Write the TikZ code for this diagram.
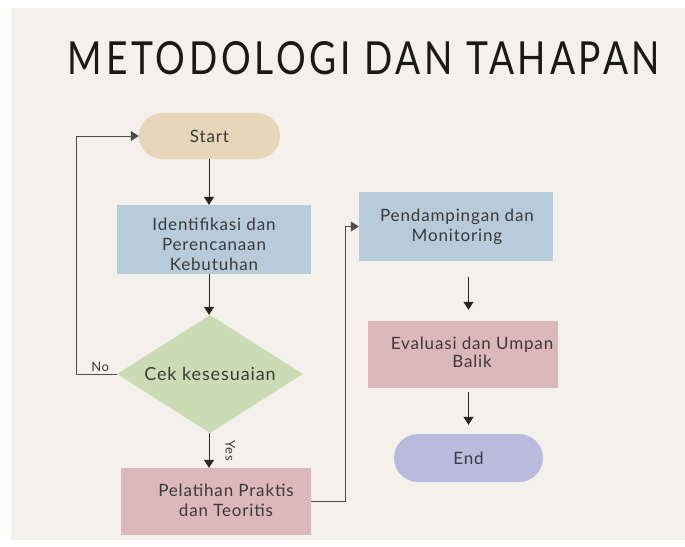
\documentclass[tikz,border=0pt]{standalone}
\usepackage{fontspec}
\setmainfont{Lato}[LetterSpace=5]
\newfontfamily\titlefont[LetterSpace=10]{Lato}
\usepackage{xcolor}
\usepackage{graphicx}
\usepackage{tikz}
\usetikzlibrary{shapes.geometric, arrows.meta, positioning, calc}
\definecolor{panelbg}{RGB}{244,241,236}
\definecolor{startfill}{RGB}{232,214,186}
\definecolor{bluefill}{RGB}{184,203,219}
\definecolor{greenfill}{RGB}{203,220,181}
\definecolor{pinkfill}{RGB}{221,184,186}
\definecolor{endfill}{RGB}{185,186,220}
\definecolor{textgray}{RGB}{58,58,58}

\begin{document}
\begin{tikzpicture}[
    x=1pt, y=-1pt,
    stepbox/.style={rectangle, minimum width=194pt, minimum height=69pt, inner sep=0pt, align=center, font=\fontsize{17}{20}\selectfont, text=textgray},
    terminal/.style={rectangle, rounded corners=23pt, minimum height=46pt, inner sep=0pt, font=\fontsize{17}{20}\selectfont, text=textgray},
    decision/.style={diamond, aspect=1.58, minimum width=186pt, minimum height=118pt, inner sep=0pt, font=\fontsize{18}{20}\selectfont, text=textgray},
    boxtext/.style={align=center, inner sep=0pt, font=\fontsize{17}{20}\selectfont, text=textgray},
    smalltext/.style={inner sep=0pt, font=\fontsize{13}{15}\selectfont, text=textgray},
    arrow/.style={-{Triangle[length=8pt, width=10pt]}, line width=1pt, black!85},
    loopline/.style={-{Triangle[length=8pt, width=10pt]}, line width=1pt, black!70},
]
\useasboundingbox (0,0) rectangle (685,546);
\fill[white] (0,0) rectangle (685,546);
\fill[panelbg] (11,8) rectangle (685,540);

% title
\node[inner sep=0pt, anchor=south, text=black!90] (title) at (364,75) {\resizebox{592pt}{33pt}{\titlefont\fontsize{44}{48}\selectfont METODOLOGI DAN TAHAPAN}};

% left column
\node[terminal, fill=startfill, minimum width=141pt] (start) at (209.5,136) {Start};
\node[stepbox, fill=bluefill] (ident) at (214,239.5) {};
\node[boxtext] (identlbl) at (214,244) {Identifikasi dan\\Perencanaan\\Kebutuhan};
\node[decision, fill=greenfill] (cek) at (210,374) {Cek kesesuaian};
\node[stepbox, fill=pinkfill, minimum width=190pt, minimum height=67pt] (train) at (216,501.5) {};
\node[boxtext] (trainlbl) at (226,500.5) {Pelatihan Praktis\\dan Teoritis};

% right column
\node[stepbox, fill=bluefill] (pend) at (456,226.5) {};
\node[boxtext] (pendlbl) at (457,227) {Pendampingan dan\\Monitoring};
\node[stepbox, fill=pinkfill, minimum width=190pt, minimum height=67pt] (eval) at (463,354.5) {};
\node[boxtext, font=\fontsize{17}{18}\selectfont] (evallbl) at (472,352) {Evaluasi dan Umpan\\Balik};
\node[terminal, fill=endfill, minimum width=149pt, minimum height=48pt, rounded corners=24pt] (end) at (468.5,458) {End};

% connectors
\draw[arrow] (start.south -| 209,0) -- (ident.north -| 209,0);
\draw[arrow] (ident.south -| 209,0) -- (cek.north -| 209,0);
\draw[arrow] (cek.south -| 209,0) -- node[smalltext, right=16pt, rotate=-90, anchor=south] (yes) {Yes} (train.north -| 209,0);
\draw[loopline] (cek.west) -- ++(-40,0) node[smalltext, above right=2pt and 14pt] (no) {No} |- (start.west);
\draw[loopline] (train.east) -- ++(34,0) |- (pend.west);
\draw[arrow, shorten <=16pt, shorten >=11pt] (pend.south -| end) -- (eval.north -| end);
\draw[arrow, shorten <=4pt, shorten >=9pt] (eval.south -| end) -- (end.north);

\end{tikzpicture}
\end{document}
